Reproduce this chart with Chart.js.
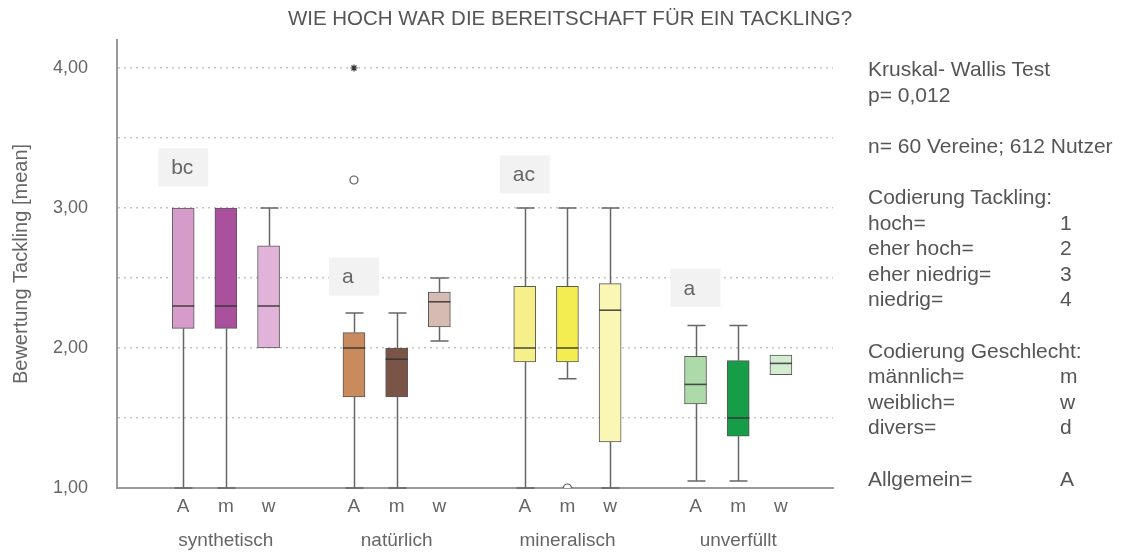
<!DOCTYPE html>
<html lang="de">
<head>
<meta charset="utf-8">
<title>Bereitschaft für ein Tackling</title>
<script src="https://cdn.jsdelivr.net/npm/chart.js@4/dist/chart.umd.min.js"></script>
<style>
  html, body { margin: 0; padding: 0; background: #fff; }
  #wrap { position: relative; width: 1127px; height: 554px; overflow: hidden;
          font-family: 'Liberation Sans', Arial, sans-serif; color: #555; }
  #chart { position: absolute; left: 0; top: 0; }
  #titel { position: absolute; left: 0; width: 1140px; top: 6px; text-align: center; font-size: 20.5px; }
  #info { position: absolute; left: 868px; top: 56px; font-size: 21px; line-height: 25.6px; }
  #info .zeile { position: relative; height: 25.6px; white-space: pre; }
  #info .wert { position: absolute; left: 192px; top: 0; }
</style>
</head>
<body>
<div id="wrap">
  <canvas id="chart" width="1127" height="554"></canvas>
  <div id="titel">WIE HOCH WAR DIE BEREITSCHAFT FÜR EIN TACKLING?</div>
  <div id="info"></div>
</div>
<script>
// Daten
const gruppen = ['synthetisch', 'natürlich', 'mineralisch', 'unverfüllt'];
const untergruppen = ['A', 'm', 'w'];

// je Box: A, m, w pro Gruppe
const minimum  = [1.00, 1.00, 2.00,  1.00, 1.00, 2.05,  1.00, 1.78, 1.00,  1.05, 1.05, 1.81];
const quartil1 = [2.14, 2.14, 2.00,  1.65, 1.65, 2.15,  1.90, 1.90, 1.33,  1.60, 1.37, 1.81];
const median   = [2.30, 2.30, 2.30,  2.00, 1.92, 2.33,  2.00, 2.00, 2.27,  1.74, 1.50, 1.89];
const quartil3 = [3.00, 3.00, 2.73,  2.11, 2.00, 2.40,  2.44, 2.44, 2.46,  1.94, 1.91, 1.95];
const maximum  = [3.00, 3.00, 3.00,  2.25, 2.25, 2.50,  3.00, 3.00, 3.00,  2.16, 2.16, 1.95];

// Ausreißer (Box-Index, Wert)
const ausreisserBox  = [3, 7];
const ausreisserWert = [3.20, 1.00];
const extremBox  = [3];
const extremWert = [4.00];

// Buchstaben der Signifikanzgruppen (an der Box "A" jeder Gruppe)
const signifikanz     = ['bc', 'a', 'ac', 'a'];
const signifikanzWert = [3.29, 2.51, 3.24, 2.43];

const yTicks = [1, 1.5, 2, 2.5, 3, 3.5, 4];

const farben = [
  '#d59bc9', '#a9519d', '#e1b3d8',
  '#c98a5e', '#7b5448', '#d6bbb2',
  '#f6f08a', '#f3ed52', '#f9f7b3',
  '#aedaa9', '#179c48', '#d4ecd2'
];

const infoZeilen = [
  ['Kruskal- Wallis Test', ''],
  ['p= 0,012', ''],
  null,
  ['n= 60 Vereine; 612 Nutzer', ''],
  null,
  ['Codierung Tackling:', ''],
  ['hoch=', '1'],
  ['eher hoch=', '2'],
  ['eher niedrig=', '3'],
  ['niedrig=', '4'],
  null,
  ['Codierung Geschlecht:', ''],
  ['männlich=', 'm'],
  ['weiblich=', 'w'],
  ['divers=', 'd'],
  null,
  ['Allgemein=', 'A']
];

// Position auf der x-Achse: Gruppen mit einer Lücke dazwischen
const slot = (g, s) => g * (untergruppen.length + 1) + s + 1;
const positionen = [];
gruppen.forEach((g, gi) => untergruppen.forEach((u, si) => positionen.push(slot(gi, si))));

const schrift = "'Liberation Sans', Arial, sans-serif";

function infoAufbauen() {
  const box = document.getElementById('info');
  infoZeilen.forEach(z => {
    const div = document.createElement('div');
    div.className = 'zeile';
    if (z) {
      div.textContent = z[0];
      if (z[1]) {
        const w = document.createElement('span');
        w.className = 'wert';
        w.textContent = z[1];
        div.appendChild(w);
      }
    }
    box.appendChild(div);
  });
}

const boxplotPlugin = {
  id: 'boxplot',
  beforeDatasetsDraw(chart) {
    // Whisker hinter den Boxen
    const { ctx, scales: { x, y } } = chart;
    const kappe = 9;
    ctx.save();
    ctx.strokeStyle = '#666';
    ctx.lineWidth = 1.5;
    positionen.forEach((pos, i) => {
      const px = Math.round(x.getPixelForValue(pos)) + 0.5;
      const teile = [[quartil3[i], maximum[i]], [quartil1[i], minimum[i]]];
      teile.forEach(([von, bis]) => {
        if (Math.abs(bis - von) < 0.001) return;
        const y1 = y.getPixelForValue(von);
        const y2 = y.getPixelForValue(bis);
        ctx.beginPath();
        ctx.moveTo(px, y1);
        ctx.lineTo(px, y2);
        ctx.moveTo(px - kappe, y2);
        ctx.lineTo(px + kappe, y2);
        ctx.stroke();
      });
    });
    ctx.restore();
  },
  afterDatasetsDraw(chart) {
    const { ctx, scales: { x, y } } = chart;
    const balken = chart.getDatasetMeta(0).data;
    ctx.save();
    // Mediane
    ctx.strokeStyle = 'rgba(50,50,50,0.85)';
    ctx.lineWidth = 1.6;
    positionen.forEach((pos, i) => {
      const b = balken[i];
      const py = y.getPixelForValue(median[i]);
      ctx.beginPath();
      ctx.moveTo(b.x - b.width / 2, py);
      ctx.lineTo(b.x + b.width / 2, py);
      ctx.stroke();
    });
    // Signifikanz-Buchstaben
    ctx.font = '21px ' + schrift;
    ctx.textBaseline = 'middle';
    ctx.textAlign = 'left';
    signifikanz.forEach((t, gi) => {
      const px = x.getPixelForValue(slot(gi, 0));
      const py = y.getPixelForValue(signifikanzWert[gi]);
      ctx.fillStyle = '#f2f2f2';
      ctx.fillRect(px - 25, py - 19, 50, 38);
      ctx.fillStyle = '#666';
      ctx.fillText(t, px - 12, py + 1);
    });
    ctx.restore();
  }
};

function chartZeichnen() {
  const ctx = document.getElementById('chart').getContext('2d');
  Chart.defaults.font.family = schrift;
  Chart.defaults.color = '#666';

  new Chart(ctx, {
    type: 'bar',
    data: {
      datasets: [
        {
          label: 'Box',
          data: positionen.map((p, i) => ({ x: p, y: [quartil1[i], quartil3[i]] })),
          backgroundColor: farben,
          borderColor: 'rgba(70,70,70,0.9)',
          borderWidth: 1,
          borderSkipped: false,
          barThickness: 22
        },
        {
          type: 'scatter',
          label: 'Ausreißer',
          data: ausreisserBox.map((b, i) => ({ x: positionen[b], y: ausreisserWert[i] })),
          pointStyle: 'circle',
          pointRadius: 4,
          backgroundColor: '#fff',
          borderColor: '#555',
          borderWidth: 1.2
        },
        {
          type: 'scatter',
          label: 'Extremwert',
          data: extremBox.map((b, i) => ({ x: positionen[b], y: extremWert[i] })),
          pointStyle: 'star',
          pointRadius: 3.5,
          borderColor: '#333',
          borderWidth: 1.2
        }
      ]
    },
    options: {
      responsive: false,
      animation: false,
      layout: { padding: { left: 0, right: 294, top: 40, bottom: 0 } },
      plugins: {
        legend: { display: false },
        tooltip: { enabled: false },
        title: { display: false }
      },
      scales: {
        x: {
          type: 'linear',
          min: -0.55,
          max: 16.22,
          offset: false,
          grid: { display: false },
          border: { display: true, color: '#9a9a9a', width: 2 },
          afterFit: (scale) => { scale.height = 66; },
          afterBuildTicks: (scale) => { scale.ticks = positionen.map(v => ({ value: v })); },
          ticks: {
            autoSkip: false,
            maxRotation: 0,
            minRotation: 0,
            padding: 2,
            color: '#666',
            font: { size: 19, lineHeight: 0.9 },
            callback: (value) => {
              const i = positionen.indexOf(value);
              if (i < 0) return '';
              const s = i % untergruppen.length;
              const g = Math.floor(i / untergruppen.length);
              return s === 1 ? [untergruppen[s], '', gruppen[g]] : untergruppen[s];
            }
          }
        },
        y: {
          min: 1,
          max: 4.2,
          grid: { color: '#c4c4c4', lineWidth: 1.5, drawTicks: false },
          border: { display: true, color: '#9a9a9a', width: 2, dash: [2, 4] },
          afterFit: (scale) => { scale.width = 117; },
          afterBuildTicks: (scale) => { scale.ticks = yTicks.map(v => ({ value: v })); },
          ticks: {
            padding: 29,
            color: '#666',
            font: { size: 18 },
            callback: (v) => Number.isInteger(v) ? v.toFixed(2).replace('.', ',') : ''
          },
          title: {
            display: true,
            text: 'Bewertung Tackling [mean]',
            color: '#666',
            font: { size: 20 },
            padding: { top: 9, bottom: 0 }
          }
        }
      }
    },
    plugins: [boxplotPlugin]
  });
}

document.addEventListener('DOMContentLoaded', () => {
  infoAufbauen();
  chartZeichnen();
});
</script>
</body>
</html>
